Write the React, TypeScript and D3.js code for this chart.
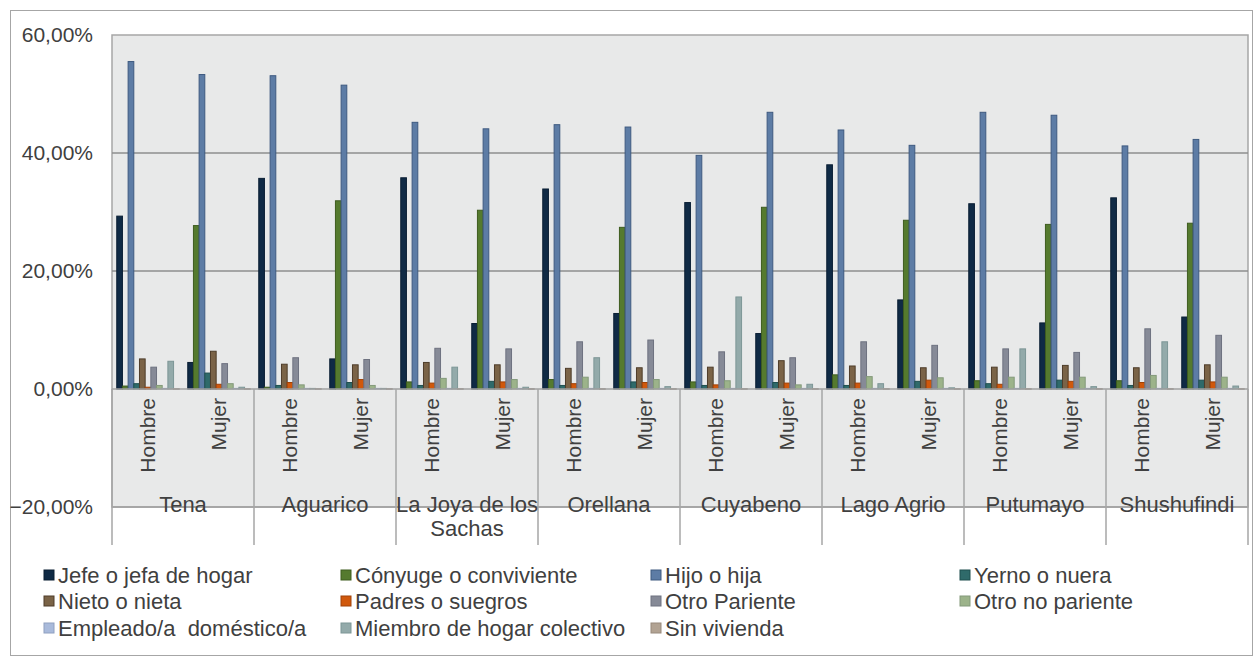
import { useMemo } from 'react'
import * as d3 from 'd3'

const regions = ['Tena', 'Aguarico', 'La Joya de los Sachas', 'Orellana', 'Cuyabeno', 'Lago Agrio', 'Putumayo', 'Shushufindi']
const regionLines = [['Tena'], ['Aguarico'], ['La Joya de los', 'Sachas'], ['Orellana'], ['Cuyabeno'], ['Lago Agrio'], ['Putumayo'], ['Shushufindi']]
const sexes = ['Hombre', 'Mujer']

const seriesNames = [
  'Jefe o jefa de hogar',
  'Cónyuge o conviviente',
  'Hijo o hija',
  'Yerno o nuera',
  'Nieto o nieta',
  'Padres o suegros',
  'Otro Pariente',
  'Otro no pariente',
  'Empleado/a  doméstico/a',
  'Miembro de hogar colectivo',
  'Sin vivienda'
]
const fills = ['#0f2a45', '#557a2e', '#5d7ca5', '#2f6a6a', '#7a6347', '#d0580c', '#868a97', '#9cb38a', '#a9badb', '#93aaaa', '#b2a393']
const strokes = ['#0a1e33', '#3e5c1f', '#3e5a80', '#1f4f4f', '#4e3d2a', '#a04208', '#6e7280', '#83997a', '#8fa0c0', '#7d9696', '#988a7c']

// order: Tena H, Tena M, Aguarico H, Aguarico M, ... Shushufindi H, Shushufindi M
const jefe = [29.3, 4.5, 35.7, 5.1, 35.8, 11.1, 33.9, 12.8, 31.6, 9.4, 38.0, 15.1, 31.4, 11.2, 32.4, 12.2]
const conyuge = [0.5, 27.7, 0.3, 31.9, 1.2, 30.3, 1.6, 27.4, 1.2, 30.8, 2.4, 28.6, 1.4, 27.9, 1.4, 28.1]
const hijo = [55.5, 53.3, 53.1, 51.5, 45.2, 44.1, 44.8, 44.4, 39.6, 46.9, 43.9, 41.3, 46.9, 46.4, 41.2, 42.3]
const yerno = [0.9, 2.7, 0.6, 1.1, 0.6, 1.3, 0.6, 1.2, 0.6, 1.1, 0.6, 1.3, 0.9, 1.5, 0.6, 1.5]
const nieto = [5.1, 6.4, 4.2, 4.1, 4.5, 4.1, 3.5, 3.6, 3.7, 4.8, 3.9, 3.6, 3.7, 4.0, 3.6, 4.1]
const padres = [0.3, 0.8, 1.1, 1.6, 1.0, 1.2, 0.9, 1.1, 0.7, 1.0, 1.0, 1.5, 0.8, 1.3, 1.1, 1.2]
const otroPariente = [3.7, 4.3, 5.3, 5.0, 6.9, 6.8, 8.0, 8.3, 6.3, 5.3, 8.0, 7.4, 6.8, 6.2, 10.2, 9.1]
const otroNoPariente = [0.6, 0.9, 0.7, 0.6, 1.8, 1.6, 2.0, 1.6, 1.4, 0.7, 2.1, 1.9, 2.0, 2.0, 2.3, 2.0]
const empleado = [0.1, 0.1, 0.1, 0.1, 0.1, 0.1, 0.1, 0.1, 0.1, 0.1, 0.1, 0.1, 0.1, 0.1, 0.1, 0.1]
const miembro = [4.7, 0.3, 0.1, 0.1, 3.7, 0.3, 5.3, 0.4, 15.6, 0.8, 0.9, 0.2, 6.8, 0.4, 8.0, 0.5]
const sinVivienda = [0.05, 0.05, 0.05, 0.05, 0.05, 0.05, 0.05, 0.05, 0.05, 0.05, 0.05, 0.05, 0.05, 0.05, 0.05, 0.05]

const seriesValues = [jefe, conyuge, hijo, yerno, nieto, padres, otroPariente, otroNoPariente, empleado, miembro, sinVivienda]
const yTicks = [60, 40, 20, 0, -20]

const W = 1255
const H = 658
const font = 'Liberation Sans, Arial, sans-serif'
const textColor = '#404040'

const App = () => {
  const plot = { left: 112, right: 1248, top: 35, bottom: 507 }

  const categories = useMemo(() => regions.flatMap((r) => sexes.map((s) => r + '|' + s)), [])

  const x = d3.scaleBand().domain(categories).range([plot.left, plot.right]).padding(0)
  const inner = d3
    .scaleBand()
    .domain(seriesNames)
    .range([0, x.bandwidth()])
    .paddingInner(0)
    .paddingOuter(0.75)
  const y = d3.scaleLinear().domain([-20, 60]).range([plot.bottom, plot.top])
  const groupW = x.bandwidth() * 2

  const legendCols = [44, 341, 651, 960]
  const legendRows = [575, 601, 628]

  return (
    <svg width={W} height={H} style={{ position: 'absolute', left: 0, top: 0 }} fontFamily={font}>
      <rect x={0} y={0} width={W} height={H} fill='#ffffff' />
      <rect x={10.5} y={10.5} width={1242} height={645} fill='none' stroke='#a6a6a6' />
      <rect
        x={plot.left}
        y={plot.top}
        width={plot.right - plot.left}
        height={plot.bottom - plot.top}
        fill='#e8e9e9'
        stroke='#a6a6a6'
        strokeWidth={1.5}
      />
      {[40, 20].map((t) => (
        <line key={t} x1={plot.left} x2={plot.right} y1={y(t)} y2={y(t)} stroke='#8e8e8e' strokeWidth={1.5} />
      ))}
      {yTicks.map((t) => (
        <text key={t} x={93} y={y(t)} dy='0.35em' textAnchor='end' fontSize={21} fill={textColor}>
          {d3.format('.2f')(t).replace('.', ',') + '%'}
        </text>
      ))}

      {seriesValues.map((vals, si) => (
        <g key={seriesNames[si]}>
          {vals.map((v, ci) => {
            const bx = (x(categories[ci]) ?? 0) + (inner(seriesNames[si]) ?? 0)
            return (
              <rect
                key={ci}
                x={bx + 0.5}
                y={y(v)}
                width={inner.bandwidth()}
                height={Math.max(0.5, y(0) - y(v))}
                fill={fills[si]}
                stroke={strokes[si]}
                strokeWidth={1}
              />
            )
          })}
        </g>
      ))}

      <line x1={plot.left} x2={plot.right} y1={y(0)} y2={y(0)} stroke='#a0a0a0' strokeWidth={1.5} />
      <line x1={plot.left} x2={plot.right} y1={y(-20)} y2={y(-20)} stroke='#a0a0a0' strokeWidth={1.5} />

      {d3.range(regions.length + 1).map((i) => (
        <line
          key={i}
          x1={plot.left + i * groupW}
          x2={plot.left + i * groupW}
          y1={y(0)}
          y2={545}
          stroke='#a6a6a6'
          strokeWidth={1.5}
        />
      ))}

      {categories.map((c) => {
        const cx = (x(c) ?? 0) + x.bandwidth() / 2
        return (
          <text
            key={c}
            transform={`translate(${cx},398) rotate(-90)`}
            dy='0.35em'
            textAnchor='end'
            fontSize={21}
            fill={textColor}
          >
            {c.split('|')[1]}
          </text>
        )
      })}

      {regionLines.map((lines, i) => (
        <text key={regions[i]} x={plot.left + i * groupW + groupW / 2} y={512} textAnchor='middle' fontSize={22} fill={textColor}>
          {lines.map((l, li) => (
            <tspan key={li} x={plot.left + i * groupW + groupW / 2} dy={li === 0 ? 0 : 24}>
              {l}
            </tspan>
          ))}
        </text>
      ))}

      {seriesNames.map((name, i) => {
        const lx = legendCols[i % 4]
        const ly = legendRows[Math.floor(i / 4)]
        return (
          <g key={name}>
            <rect x={lx} y={ly - 5} width={10} height={10} fill={fills[i]} stroke={strokes[i]} />
            <text x={lx + 14} y={ly} dy='0.35em' fontSize={22} fill={textColor} style={{ whiteSpace: 'pre' }}>
              {name}
            </text>
          </g>
        )
      })}
    </svg>
  )
}

export default App
